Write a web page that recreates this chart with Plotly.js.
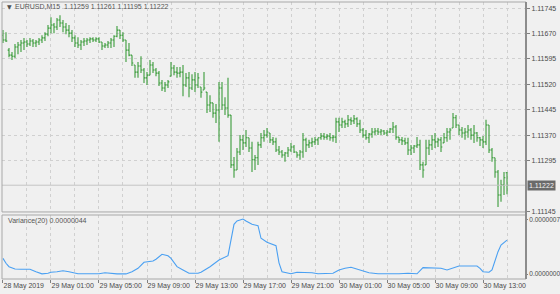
<!DOCTYPE html>
<html>
<head>
<meta charset="utf-8">
<script src="https://cdn.plot.ly/plotly-3.0.1.min.js"></script>
<style>
html,body{margin:0;padding:0;background:#f0f0f0;}
#chart{width:560px;height:294px;}
</style>
</head>
<body>
<div id="chart"></div>
<script>
// Time axis labels (M15 bars, every 16th bar)
const tickBars = [0,16,32,48,64,80,96,112,128,144,160];
const tickLabels = ["28 May 2019","29 May 01:00","29 May 05:00","29 May 09:00","29 May 13:00","29 May 17:00","29 May 21:00","30 May 01:00","30 May 05:00","30 May 09:00","30 May 13:00"];
const gridBars = [8,24,40,56,72,88,104,120,136,152,168];
const priceTicks = [1.11145,1.11295,1.11370,1.11445,1.11520,1.11595,1.11670,1.11745];

const openP = [1.11665,1.11651,1.11621,1.11606,1.11603,1.11630,1.11636,1.11642,1.11645,1.11639,
1.11648,1.11642,1.11645,1.11651,1.11657,1.11668,1.11686,1.11695,1.11689,1.11710,
1.11701,1.11689,1.11680,1.11671,1.11657,1.11642,1.11636,1.11645,1.11648,1.11651,
1.11654,1.11651,1.11654,1.11645,1.11633,1.11636,1.11642,1.11651,1.11662,1.11680,
1.11665,1.11651,1.11621,1.11606,1.11577,1.11556,1.11574,1.11562,1.11539,1.11547,
1.11577,1.11562,1.11553,1.11524,1.11509,1.11518,1.11544,1.11568,1.11556,1.11553,
1.11556,1.11518,1.11539,1.11509,1.11533,1.11518,1.11512,1.11503,1.11497,1.11459,
1.11465,1.11435,1.11444,1.11509,1.11459,1.11450,1.11429,1.11282,1.11267,1.11320,
1.11356,1.11347,1.11362,1.11332,1.11297,1.11303,1.11341,1.11362,1.11370,1.11376,
1.11356,1.11350,1.11326,1.11320,1.11311,1.11317,1.11326,1.11335,1.11320,1.11311,
1.11320,1.11356,1.11341,1.11347,1.11350,1.11356,1.11362,1.11367,1.11364,1.11367,
1.11362,1.11364,1.11409,1.11400,1.11409,1.11403,1.11415,1.11412,1.11418,1.11403,
1.11385,1.11370,1.11362,1.11373,1.11379,1.11382,1.11379,1.11382,1.11376,1.11379,
1.11388,1.11394,1.11364,1.11356,1.11353,1.11347,1.11326,1.11332,1.11338,1.11341,
1.11282,1.11282,1.11332,1.11341,1.11356,1.11350,1.11356,1.11347,1.11362,1.11379,
1.11391,1.11421,1.11400,1.11385,1.11376,1.11379,1.11385,1.11370,1.11376,1.11362,
1.11356,1.11350,1.11400,1.11326,1.11303,1.11261,1.11193,1.11223,1.11259];

const highP = [1.11680,1.11674,1.11627,1.11615,1.11639,1.11645,1.11651,1.11657,1.11651,1.11657,
1.11654,1.11651,1.11657,1.11665,1.11674,1.11695,1.11718,1.11701,1.11716,1.11724,
1.11710,1.11701,1.11695,1.11680,1.11665,1.11659,1.11651,1.11657,1.11657,1.11659,
1.11659,1.11659,1.11659,1.11645,1.11642,1.11648,1.11657,1.11665,1.11692,1.11680,
1.11674,1.11651,1.11642,1.11606,1.11577,1.11586,1.11603,1.11568,1.11556,1.11592,
1.11586,1.11568,1.11559,1.11533,1.11527,1.11533,1.11586,1.11577,1.11571,1.11571,
1.11577,1.11553,1.11556,1.11550,1.11556,1.11553,1.11512,1.11556,1.11497,1.11488,
1.11465,1.11462,1.11527,1.11527,1.11482,1.11539,1.11429,1.11305,1.11332,1.11370,
1.11370,1.11385,1.11362,1.11350,1.11311,1.11350,1.11376,1.11385,1.11391,1.11376,
1.11364,1.11362,1.11338,1.11326,1.11320,1.11335,1.11347,1.11341,1.11320,1.11326,
1.11376,1.11362,1.11356,1.11362,1.11364,1.11362,1.11376,1.11376,1.11373,1.11376,
1.11370,1.11421,1.11421,1.11421,1.11415,1.11429,1.11423,1.11429,1.11423,1.11415,
1.11391,1.11385,1.11376,1.11391,1.11391,1.11391,1.11388,1.11385,1.11385,1.11391,
1.11409,1.11400,1.11364,1.11364,1.11362,1.11362,1.11341,1.11341,1.11364,1.11356,
1.11291,1.11356,1.11356,1.11370,1.11376,1.11362,1.11364,1.11376,1.11391,1.11391,
1.11435,1.11429,1.11400,1.11394,1.11391,1.11400,1.11391,1.11400,1.11379,1.11364,
1.11367,1.11415,1.11400,1.11332,1.11303,1.11267,1.11238,1.11261,1.11261];

const lowP = [1.11642,1.11645,1.11600,1.11592,1.11598,1.11609,1.11615,1.11621,1.11630,1.11633,
1.11630,1.11630,1.11636,1.11642,1.11648,1.11662,1.11671,1.11671,1.11680,1.11689,
1.11674,1.11668,1.11659,1.11645,1.11630,1.11627,1.11621,1.11633,1.11636,1.11642,
1.11645,1.11645,1.11642,1.11621,1.11627,1.11627,1.11627,1.11630,1.11659,1.11654,
1.11645,1.11586,1.11603,1.11574,1.11539,1.11539,1.11553,1.11524,1.11518,1.11547,
1.11553,1.11544,1.11515,1.11500,1.11497,1.11509,1.11544,1.11547,1.11539,1.11541,
1.11485,1.11512,1.11482,1.11503,1.11497,1.11509,1.11480,1.11503,1.11435,1.11438,
1.11421,1.11406,1.11350,1.11444,1.11429,1.11421,1.11273,1.11244,1.11267,1.11311,
1.11326,1.11335,1.11320,1.11261,1.11267,1.11282,1.11332,1.11350,1.11362,1.11347,
1.11341,1.11320,1.11311,1.11303,1.11291,1.11305,1.11320,1.11317,1.11303,1.11297,
1.11303,1.11320,1.11332,1.11335,1.11341,1.11341,1.11356,1.11356,1.11356,1.11353,
1.11350,1.11347,1.11379,1.11391,1.11391,1.11394,1.11400,1.11403,1.11394,1.11376,
1.11362,1.11356,1.11347,1.11362,1.11370,1.11370,1.11370,1.11370,1.11367,1.11376,
1.11376,1.11356,1.11347,1.11341,1.11341,1.11311,1.11311,1.11317,1.11332,1.11267,
1.11244,1.11282,1.11311,1.11326,1.11332,1.11335,1.11320,1.11347,1.11350,1.11356,
1.11391,1.11391,1.11370,1.11362,1.11356,1.11362,1.11356,1.11347,1.11350,1.11338,
1.11332,1.11341,1.11317,1.11291,1.11244,1.11158,1.11173,1.11193,1.11195];

const closeP = [1.11651,1.11648,1.11606,1.11603,1.11630,1.11636,1.11642,1.11645,1.11639,1.11648,
1.11642,1.11645,1.11651,1.11657,1.11668,1.11686,1.11695,1.11689,1.11710,1.11701,
1.11689,1.11680,1.11671,1.11657,1.11642,1.11636,1.11645,1.11648,1.11651,1.11654,
1.11651,1.11654,1.11645,1.11633,1.11636,1.11642,1.11651,1.11662,1.11680,1.11665,
1.11651,1.11621,1.11606,1.11583,1.11556,1.11574,1.11562,1.11539,1.11547,1.11577,
1.11562,1.11553,1.11524,1.11509,1.11518,1.11527,1.11568,1.11556,1.11553,1.11556,
1.11518,1.11539,1.11509,1.11533,1.11518,1.11539,1.11497,1.11509,1.11459,1.11465,
1.11435,1.11444,1.11509,1.11459,1.11450,1.11429,1.11282,1.11267,1.11320,1.11356,
1.11347,1.11362,1.11332,1.11297,1.11303,1.11341,1.11362,1.11370,1.11379,1.11356,
1.11350,1.11326,1.11320,1.11311,1.11317,1.11326,1.11335,1.11320,1.11311,1.11320,
1.11356,1.11341,1.11347,1.11350,1.11356,1.11362,1.11367,1.11364,1.11367,1.11362,
1.11364,1.11409,1.11400,1.11409,1.11403,1.11415,1.11412,1.11418,1.11403,1.11385,
1.11370,1.11362,1.11373,1.11379,1.11382,1.11379,1.11382,1.11376,1.11379,1.11388,
1.11394,1.11364,1.11356,1.11353,1.11347,1.11326,1.11332,1.11338,1.11341,1.11282,
1.11267,1.11332,1.11341,1.11356,1.11350,1.11356,1.11335,1.11362,1.11379,1.11385,
1.11421,1.11400,1.11385,1.11376,1.11379,1.11385,1.11370,1.11376,1.11362,1.11356,
1.11350,1.11400,1.11326,1.11303,1.11261,1.11193,1.11223,1.11244,1.11222];

// Variance(20) readings at bar positions
const varBars = [0,1,2,4,6,9,11,13,15,16,18,20,22,25,27,29,32,34,36,38,41,43,45,47,50,51,53,55,56,58,60,62,65,66,69,71,72,75,76,77,78,80,81,83,85,86,88,91,92,93,96,98,103,105,110,112,114,116,119,122,125,130,132,135,138,140,143,146,148,150,152,158,159,160,162,163,165,166,168];
const varVals = [2.03e-7,1.39e-7,0.95e-7,0.65e-7,0.61e-7,0.61e-7,0.30e-7,0.02e-7,0.09e-7,0.22e-7,0.30e-7,0.43e-7,0.30e-7,0.03e-7,0.03e-7,0.02e-7,0.03e-7,0.17e-7,0.09e-7,0.02e-7,0.01e-7,0.30e-7,0.74e-7,1.52e-7,1.68e-7,1.91e-7,2.55e-7,2.37e-7,2.03e-7,0.95e-7,0.52e-7,0.09e-7,0.09e-7,0.22e-7,0.95e-7,1.59e-7,1.81e-7,2.37e-7,4.19e-7,6.44e-7,6.87e-7,7.13e-7,6.87e-7,6.44e-7,6.26e-7,4.63e-7,4.11e-7,3.67e-7,1.45e-7,0.30e-7,0.03e-7,0.22e-7,0.17e-7,0.03e-7,0.09e-7,0.52e-7,0.74e-7,0.87e-7,0.52e-7,0.17e-7,0.03e-7,0.01e-7,0.03e-7,0.09e-7,0.03e-7,0.82e-7,0.82e-7,0.74e-7,0.52e-7,0.74e-7,1.04e-7,1.04e-7,0.74e-7,0.30e-7,0.22e-7,0.52e-7,2.89e-7,3.76e-7,4.40e-7];

const bars = openP.map((_, i) => i);
const last = openP.length - 1;
const green = '#3b9c3b';
const gridC = '#d0d0d0';
const txtC = '#4a4a4a';
const NB = '\u00a0';
const FS = 7;

const traces = [
  {
    type: 'ohlc', x: bars, open: openP, high: highP, low: lowP, close: closeP,
    xaxis: 'x', yaxis: 'y', tickwidth: 0.45,
    increasing: {line: {color: green, width: 1.1}},
    decreasing: {line: {color: green, width: 1.1}},
    hoverinfo: 'skip'
  },
  {
    type: 'scatter', mode: 'lines', x: varBars, y: varVals,
    xaxis: 'x', yaxis: 'y2',
    line: {color: '#4aa0f2', width: 1.1}, hoverinfo: 'skip'
  }
];

const lastP = closeP[last];
const layout = {
  width: 560, height: 294,
  margin: {l: 2, r: 34, t: 2, b: 15},
  paper_bgcolor: '#f0f0f0', plot_bgcolor: '#f0f0f0',
  showlegend: false,
  font: {family: 'Liberation Sans, Arial, sans-serif', size: FS, color: txtC},
  xaxis: {
    anchor: 'y2', range: [-0.33, 174.33], rangeslider: {visible: false},
    tickmode: 'array', tickvals: tickBars, ticktext: tickLabels, tickangle: 0,
    ticklabelposition: 'outside right', ticks: 'outside', ticklen: 3, tickcolor: '#808080',
    tickfont: {size: FS, color: txtC},
    showgrid: true, gridcolor: gridC, griddash: '3px,3px', gridwidth: 1,
    minor: {tickmode: 'array', tickvals: gridBars, showgrid: true, gridcolor: gridC, griddash: '3px,3px', ticks: ''},
    zeroline: false, showline: false
  },
  yaxis: {
    domain: [0.242, 1], anchor: 'x', side: 'right',
    range: [1.11143, 1.11763],
    tickmode: 'array', tickvals: priceTicks, tickformat: '.5f',
    ticks: 'outside', ticklen: 3, tickcolor: '#808080',
    showgrid: true, gridcolor: gridC, griddash: '3px,3px',
    zeroline: false, showline: false, tickfont: {size: FS, color: txtC}
  },
  yaxis2: {
    domain: [0, 0.231], anchor: 'x', side: 'right',
    range: [-0.648e-7, 7.646e-7],
    tickmode: 'array', tickvals: [0, 7e-7], ticktext: ['0.0000000', '0.0000007'],
    ticks: 'outside', ticklen: 1, tickcolor: '#808080',
    showgrid: false, zeroline: false, showline: false, tickfont: {size: 6.5, color: txtC}
  },
  shapes: [
    {type: 'line', xref: 'paper', yref: 'y', x0: 0, x1: 1, y0: lastP, y1: lastP, line: {color: '#c4c4c4', width: 1}},
    {type: 'rect', xref: 'paper', yref: 'paper', x0: 0, x1: 1, y0: 0.242, y1: 1, line: {color: '#a8a8a8', width: 1}},
    {type: 'rect', xref: 'paper', yref: 'paper', x0: 0, x1: 1, y0: 0, y1: 0.231, line: {color: '#a8a8a8', width: 1}},
    {type: 'line', xref: 'paper', yref: 'paper', x0: 1, x1: 1, y0: 0, y1: 1, line: {color: '#8c8c8c', width: 2}}
  ],
  annotations: [
    {xref: 'paper', yref: 'paper', x: 0.006, y: 0.983, xanchor: 'left', yanchor: 'middle', showarrow: false,
     text: '\u25BC', font: {family: 'DejaVu Sans', size: 6, color: '#505050'}},
    {xref: 'paper', yref: 'paper', x: 0.021, y: 0.983, xanchor: 'left', yanchor: 'middle', showarrow: false,
     text: 'EURUSD,M15' + NB + NB + openP[last].toFixed(5) + NB + highP[last].toFixed(5) + NB + lowP[last].toFixed(5) + NB + closeP[last].toFixed(5),
     font: {size: FS, color: '#555555'}},
    {xref: 'paper', yref: 'paper', x: 0.007, y: 0.209, xanchor: 'left', yanchor: 'middle', showarrow: false,
     text: 'Variance(20)' + NB + varVals[varVals.length - 1].toFixed(8), font: {size: FS, color: '#555555'}},
    {xref: 'paper', yref: 'y', x: 1, y: lastP, xanchor: 'left', yanchor: 'middle', xshift: 1, showarrow: false,
     text: lastP.toFixed(5), bgcolor: '#6a6a6a', borderpad: 1, font: {size: FS, color: '#f2f2f2'}}
  ]
};

Plotly.newPlot('chart', traces, layout, {staticPlot: true, displayModeBar: false});
</script>
</body>
</html>
